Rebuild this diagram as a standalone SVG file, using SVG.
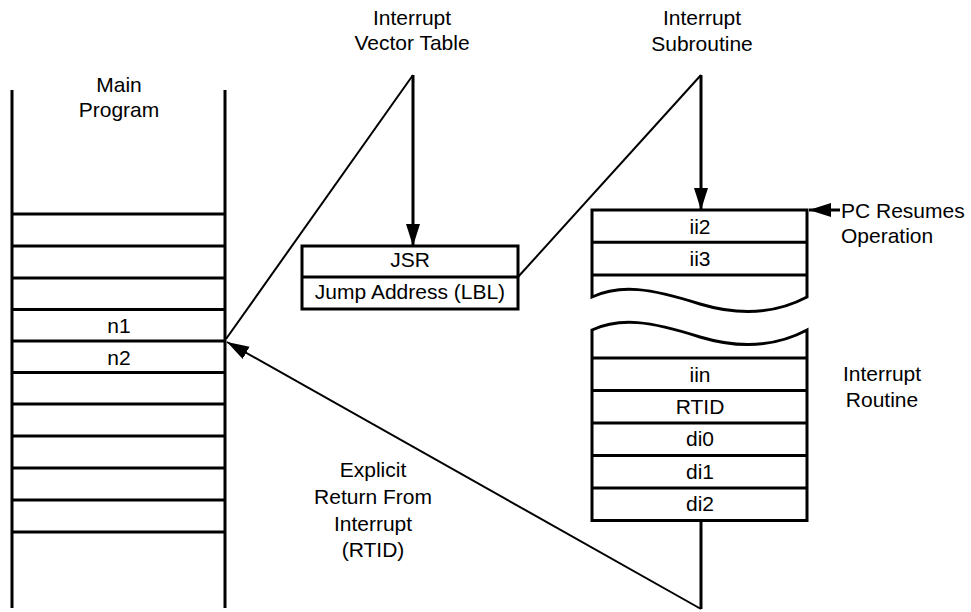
<svg xmlns="http://www.w3.org/2000/svg" width="971" height="612" viewBox="0 0 971 612">
<style>
text{font-family:"Liberation Sans",Arial,Helvetica,sans-serif;font-size:21px;fill:#000}
.c{text-anchor:middle}
.box{fill:#fff;stroke:#000;stroke-width:3}
.ln{stroke:#000;stroke-width:3;fill:none}
.thin{stroke:#000;stroke-width:2;fill:none}
</style>
<defs>
<marker id="ah" markerUnits="userSpaceOnUse" markerWidth="24" markerHeight="16" refX="22" refY="7" orient="auto">
<path d="M0,0 L22,7 L0,14 z" fill="#000"/>
</marker>
</defs>

<g id="main-program">
<text class="c" x="119" y="92">Main</text>
<text class="c" x="119" y="117">Program</text>
<line class="ln" x1="12" y1="90" x2="12" y2="608"/>
<line class="ln" x1="225" y1="90" x2="225" y2="608"/>
<path class="ln" d="M12,214H225M12,246H225M12,278H225M12,309.5H225M12,341H225M12,372.5H225M12,404H225M12,436H225M12,468H225M12,500H225M12,532H225"/>
<text class="c" x="119" y="332.5">n1</text>
<text class="c" x="119" y="364.5">n2</text>
</g>

<g id="vector-table">
<text class="c" x="412" y="25">Interrupt</text>
<text class="c" x="412" y="50">Vector Table</text>
<rect class="box" x="302" y="246" width="216" height="63"/>
<line class="ln" x1="302" y1="277" x2="518" y2="277"/>
<text class="c" x="410" y="267">JSR</text>
<text class="c" x="410" y="299">Jump Address (LBL)</text>
</g>

<g id="interrupt-subroutine">
<text class="c" x="702" y="25">Interrupt</text>
<text class="c" x="702" y="51">Subroutine</text>
<path class="box" d="M592,297 V210 H807 V297 C775,314 740,316 700,304 C650,288 620,284 592,297 z"/>
<path class="ln" d="M592,242.3H807M592,275H807"/>
<text class="c" x="700" y="233.5">ii2</text>
<text class="c" x="700" y="266">ii3</text>
</g>

<g id="pc-resumes">
<text x="841" y="218">PC Resumes</text>
<text x="841" y="243">Operation</text>
</g>

<g id="interrupt-routine">
<path class="box" d="M592,330 C620,317 650,321 700,337 C740,349 775,347 807,330 V520.5 H592 z"/>
<path class="ln" d="M592,358H807M592,390.5H807M592,423H807M592,455.5H807M592,488H807"/>
<text class="c" x="700" y="381.5">iin</text>
<text class="c" x="700" y="413.5">RTID</text>
<text class="c" x="700" y="446">di0</text>
<text class="c" x="700" y="478.5">di1</text>
<text class="c" x="700" y="511">di2</text>
<text class="c" x="882" y="381">Interrupt</text>
<text class="c" x="882" y="407">Routine</text>
</g>

<g id="return-label">
<text class="c" x="373" y="477">Explicit</text>
<text class="c" x="373" y="504">Return From</text>
<text class="c" x="373" y="531">Interrupt</text>
<text class="c" x="373" y="557">(RTID)</text>
</g>

<g id="connectors">
<line class="thin" x1="226" y1="339" x2="413" y2="75"/>
<line class="ln" x1="413" y1="75" x2="413" y2="246" marker-end="url(#ah)"/>
<line class="thin" x1="518" y1="277" x2="701" y2="75"/>
<line class="ln" x1="701" y1="75" x2="701" y2="210" marker-end="url(#ah)"/>
<line class="ln" x1="840" y1="210" x2="809" y2="210" marker-end="url(#ah)"/>
<polyline class="ln" points="701,521 701,609"/>
<line class="thin" x1="701" y1="609" x2="227" y2="342" marker-end="url(#ah)"/>
</g>
</svg>
